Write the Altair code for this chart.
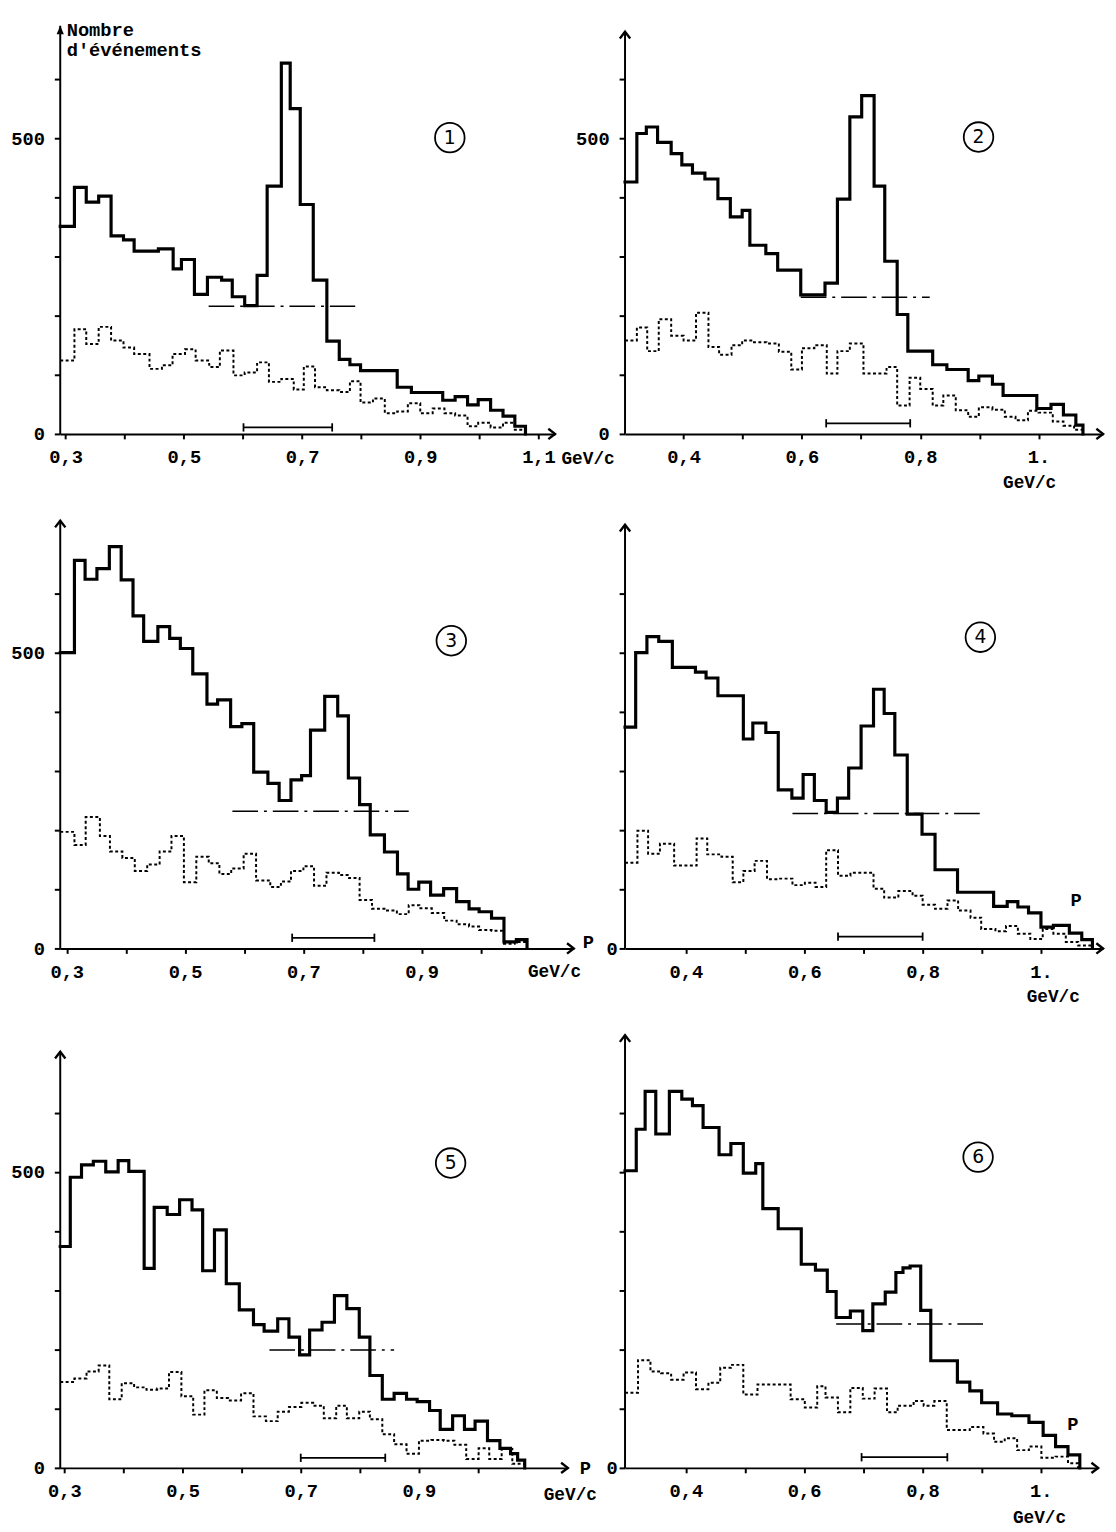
import altair as alt
import pandas as pd

# ---------------- data (p in GeV/c, counts) ----------------
# Panel 1
p1_solid_edges = [0.291, 0.315, 0.335, 0.356, 0.377, 0.398, 0.416, 0.457, 0.482, 0.496, 0.518, 0.540, 0.564, 0.582,
                  0.603, 0.624, 0.641, 0.665, 0.680, 0.697, 0.719, 0.742, 0.763, 0.781, 0.799, 0.861, 0.885, 0.938,
                  0.959, 0.980, 0.998, 1.019, 1.040, 1.060, 1.078]
p1_solid_counts = [351, 417, 392, 402, 335, 328, 309, 313, 279, 295, 236, 265, 260, 232, 217, 268, 419, 627, 550, 388,
                   260, 157, 126, 117, 107, 79, 70, 57, 63, 49, 58, 40, 30, 13]
p1_dot_edges = [0.291, 0.315, 0.335, 0.356, 0.377, 0.398, 0.416, 0.442, 0.463, 0.481, 0.502, 0.520, 0.543, 0.561,
                0.584, 0.603, 0.624, 0.644, 0.665, 0.686, 0.703, 0.722, 0.742, 0.763, 0.781, 0.799, 0.820, 0.840,
                0.861, 0.879, 0.900, 0.921, 0.941, 0.959, 0.980, 0.998, 1.019, 1.040, 1.060, 1.078]
p1_dot_counts = [124, 177, 152, 181, 158, 146, 135, 110, 116, 135, 143, 124, 113, 141, 99, 104, 121, 88, 93, 75,
                 114, 79, 74, 71, 89, 53, 60, 35, 38, 52, 35, 43, 35, 31, 13, 19, 11, 19, 7]

# Panel 2
p2_solid_edges = [0.301, 0.321, 0.337, 0.356, 0.379, 0.397, 0.415, 0.436, 0.458, 0.479, 0.499, 0.512, 0.539, 0.559,
                  0.598, 0.639, 0.660, 0.681, 0.701, 0.722, 0.740, 0.761, 0.779, 0.821, 0.845, 0.881, 0.899, 0.922,
                  0.940, 0.997, 1.021, 1.042, 1.063, 1.075]
p2_solid_counts = [426, 508, 519, 493, 474, 455, 441, 431, 398, 367, 378, 319, 305, 277, 235, 255, 397, 536, 572, 419,
                   292, 202, 140, 117, 109, 90, 98, 84, 65, 43, 50, 32, 15]
p2_dot_edges = [0.301, 0.321, 0.3385, 0.358, 0.379, 0.400, 0.421, 0.442, 0.460, 0.481, 0.499, 0.519, 0.540, 0.561,
                0.582, 0.600, 0.621, 0.642, 0.660, 0.681, 0.704, 0.722, 0.743, 0.761, 0.782, 0.800, 0.821, 0.839,
                0.860, 0.881, 0.899, 0.922, 0.943, 0.961, 0.982, 1.000, 1.024, 1.042, 1.060, 1.075]
p2_dot_counts = [158, 180, 140, 194, 166, 158, 205, 147, 134, 150, 158, 155, 153, 139, 109, 145, 150, 102, 140, 153,
                 102, 102, 113, 48, 95, 76, 48, 65, 40, 29, 45, 41, 29, 23, 39, 36, 21, 14, 7]

# Panel 3
p3_solid_edges = [0.289, 0.313, 0.331, 0.351, 0.372, 0.392, 0.412, 0.430, 0.454, 0.474, 0.492, 0.513, 0.537, 0.555,
                  0.577, 0.596, 0.616, 0.640, 0.659, 0.679, 0.697, 0.712, 0.736, 0.758, 0.776, 0.795, 0.813, 0.837,
                  0.859, 0.877, 0.895, 0.915, 0.937, 0.959, 0.980, 0.997, 1.018, 1.039, 1.060, 1.078]
p3_solid_counts = [500, 656, 624, 642, 679, 623, 562, 519, 544, 524, 507, 464, 413, 420, 375, 380, 298, 279, 250, 285,
                   292, 369, 426, 393, 288, 243, 192, 163, 126, 100, 112, 90, 101, 79, 67, 62, 51, 11, 15]
p3_dot_edges = [0.289, 0.313, 0.332, 0.356, 0.373, 0.394, 0.415, 0.436, 0.457, 0.477, 0.498, 0.519, 0.540, 0.558,
                0.578, 0.599, 0.620, 0.644, 0.662, 0.679, 0.700, 0.718, 0.739, 0.760, 0.777, 0.795, 0.816, 0.837,
                0.858, 0.878, 0.896, 0.917, 0.938, 0.959, 0.980, 0.997, 1.018, 1.039, 1.057, 1.078]
p3_dot_counts = [197, 175, 222, 190, 164, 153, 131, 142, 164, 190, 112, 155, 144, 126, 135, 160, 115, 104, 113, 131,
                 139, 106, 128, 124, 119, 82, 67, 64, 58, 73, 68, 60, 47, 41, 37, 31, 30, 8, 11]

# Panel 4
p4_solid_edges = [0.297, 0.315, 0.334, 0.354, 0.377, 0.416, 0.434, 0.454, 0.497, 0.513, 0.535, 0.556, 0.579, 0.598,
                  0.617, 0.637, 0.656, 0.675, 0.696, 0.717, 0.735, 0.753, 0.774, 0.799, 0.821, 0.859, 0.920, 0.943,
                  0.961, 0.979, 1.000, 1.021, 1.048, 1.069, 1.087]
p4_solid_counts = [374, 500, 527, 519, 475, 467, 457, 427, 354, 381, 365, 268, 254, 294, 250, 230, 254, 305, 376, 438,
                   397, 327, 227, 193, 133, 95, 71, 79, 70, 60, 36, 39, 26, 15]
p4_dot_edges = [0.297, 0.318, 0.336, 0.356, 0.380, 0.418, 0.436, 0.460, 0.479, 0.497, 0.516, 0.537, 0.556, 0.580,
                0.601, 0.619, 0.637, 0.657, 0.678, 0.717, 0.735, 0.759, 0.783, 0.800, 0.821, 0.842, 0.860, 0.881,
                0.899, 0.923, 0.941, 0.961, 0.982, 1.003, 1.021, 1.042, 1.063, 1.087]
p4_dot_counts = [145, 199, 160, 177, 140, 186, 159, 155, 112, 131, 148, 117, 118, 107, 111, 104, 166, 123, 128, 101,
                 86, 97, 89, 74, 67, 81, 64, 52, 33, 29, 38, 25, 16, 33, 25, 11, 5]

# Panel 5
p5_solid_edges = [0.293, 0.310, 0.329, 0.349, 0.370, 0.391, 0.409, 0.435, 0.452, 0.474, 0.495, 0.516, 0.534, 0.554,
                  0.574, 0.596, 0.620, 0.638, 0.661, 0.680, 0.698, 0.715, 0.736, 0.757, 0.778, 0.799, 0.817, 0.838,
                  0.858, 0.879, 0.897, 0.918, 0.936, 0.957, 0.977, 0.995, 1.016, 1.037, 1.055, 1.067, 1.079]
p5_solid_counts = [374, 491, 512, 518, 500, 519, 501, 337, 440, 428, 453, 436, 333, 402, 311, 267, 242, 231, 252, 221,
                   191, 233, 246, 291, 269, 221, 156, 116, 126, 116, 112, 97, 65, 88, 65, 79, 46, 33, 24, 13]
p5_dot_edges = [0.293, 0.317, 0.3375, 0.358, 0.376, 0.397, 0.418, 0.439, 0.457, 0.477, 0.498, 0.518, 0.537, 0.558,
                0.577, 0.599, 0.620, 0.641, 0.661, 0.680, 0.701, 0.721, 0.739, 0.760, 0.778, 0.799, 0.817, 0.838,
                0.858, 0.879, 0.900, 0.921, 0.942, 0.960, 0.980, 1.001, 1.019, 1.040, 1.058, 1.079]
p5_dot_counts = [145, 151, 163, 173, 116, 143, 136, 132, 134, 162, 121, 90, 131, 118, 114, 126, 87, 79, 95, 103,
                 110, 105, 84, 105, 84, 95, 82, 57, 40, 24, 46, 47, 46, 39, 15, 33, 15, 32, 7]

# Panel 6
p6_solid_edges = [0.297, 0.316, 0.331, 0.349, 0.372, 0.393, 0.411, 0.429, 0.456, 0.476, 0.497, 0.518, 0.530, 0.556,
                  0.595, 0.619, 0.639, 0.654, 0.678, 0.699, 0.716, 0.737, 0.755, 0.767, 0.779, 0.797, 0.814, 0.859,
                  0.880, 0.900, 0.927, 0.951, 0.980, 1.004, 1.025, 1.046, 1.066]
p6_solid_counts = [502, 572, 636, 564, 636, 623, 612, 575, 529, 548, 498, 514, 438, 404, 344, 334, 298, 254, 265, 232,
                   277, 297, 330, 338, 341, 266, 181, 145, 130, 110, 91, 88, 77, 55, 36, 22]
p6_dot_edges = [0.297, 0.319, 0.340, 0.358, 0.375, 0.396, 0.417, 0.438, 0.458, 0.476, 0.497, 0.521, 0.577, 0.601,
                0.622, 0.636, 0.657, 0.678, 0.699, 0.719, 0.740, 0.758, 0.785, 0.802, 0.820, 0.841, 0.880, 0.903,
                0.921, 0.939, 0.960, 0.980, 1.001, 1.025, 1.046, 1.063]
p6_dot_counts = [127, 182, 163, 160, 149, 161, 133, 144, 169, 174, 124, 141, 116, 102, 138, 119, 94, 135, 117, 134,
                 94, 105, 113, 105, 113, 64, 69, 58, 44, 50, 30, 36, 17, 19, 8]

# background level (dash-dot) : start, end, level
bg_lines = [(0.542, 0.790, 216), (0.598, 0.816, 231), (0.580, 0.878, 232),
            (0.580, 0.905, 228), (0.647, 0.858, 199), (0.654, 0.911, 243)]
# mass-window bracket near the axis : start, end, level
brackets = [(0.601, 0.751, 11), (0.641, 0.783, 18), (0.681, 0.820, 18),
            (0.657, 0.800, 20), (0.700, 0.843, 17), (0.697, 0.842, 18)]
# circled panel numbers : p, count, label
circles = [(0.950, 501, "1"), (0.8985, 502, "2"), (0.950, 520, "3"),
           (0.8976, 526, "4"), (0.9536, 515, "5"), (0.894, 525, "6")]
# axis extents (x start, x arrow tip) and y arrow level
x_ranges = [(0.291, 1.128), (0.301, 1.109), (0.289, 1.157), (0.297, 1.105), (0.293, 1.152), (0.297, 1.097)]
y_tops = [690, 680, 723, 716, 703, 731]
row_ymax = [690, 723, 731]

odd_ticks = [0.3, 0.4, 0.5, 0.6, 0.7, 0.8, 0.9, 1.0, 1.1]
odd_ticks_short = [0.3, 0.4, 0.5, 0.6, 0.7, 0.8, 0.9, 1.0]
even_ticks = [0.4, 0.5, 0.6, 0.7, 0.8, 0.9, 1.0]
y_ticks = [0, 100, 200, 300, 400, 500, 600]

FONT = "Liberation Mono"
PX_GEV = 600.0
PX_CNT = 0.6

ODD_EXPR = ("indexof(['0.3','0.5','0.7','0.9','1.1'], format(datum.value, '.1f')) >= 0 ? "
            "replace(format(datum.value, '.1f'), '.', ',') : ''")
EVEN_EXPR = ("format(datum.value, '.1f') == '1.0' ? '1.' : "
             "(indexof(['0.4','0.6','0.8'], format(datum.value, '.1f')) >= 0 ? "
             "replace(format(datum.value, '.1f'), '.', ',') : '')")
Y_FULL = "datum.value == 500 ? '500' : (datum.value == 0 ? '0' : '')"
Y_ZERO = "datum.value == 0 ? '0' : ''"

CHEV_UP = "M -1 1.3 L 0 0 L 1 1.3"
TRI_UP = "M -0.7 1.6 L 0 0 L 0.7 1.6 Z"
CHEV_RIGHT = "M -1.3 -1 L 0 0 L -1.3 1"


def hist_df(edges, counts):
    rows = [{"x": edges[i], "y": c, "o": i} for i, c in enumerate(counts)]
    n = len(counts)
    rows.append({"x": edges[-1], "y": counts[-1], "o": n})
    rows.append({"x": edges[-1], "y": 0, "o": n + 1})
    return pd.DataFrame(rows)


def panel(k, solid, dot, xticks, xexpr, yexpr, ymax, xtitle_pos, ytitle=False, p_label=None, ylabpad=10):
    x0, x1 = x_ranges[k]
    width = round((x1 - x0) * PX_GEV)
    height = round(ymax * PX_CNT)
    xscale = alt.Scale(domain=[x0, x1], nice=False, zero=False)
    yscale = alt.Scale(domain=[0, ymax], nice=False, zero=True)
    xaxis = alt.Axis(values=xticks, labelExpr=xexpr, grid=False, domainColor="black", domainWidth=2,
                     tickColor="black", tickSize=5, tickWidth=2, labelFont=FONT, labelFontSize=19,
                     labelFontWeight="bold", labelColor="black", labelPadding=9, labelOverlap=False,
                     labelFlush=False, labelBound=False,
                     title="GeV/c", titleFont=FONT, titleFontSize=18, titleFontWeight="bold", titleColor="black",
                     titleAlign="left", titleBaseline="alphabetic", titleX=xtitle_pos[0], titleY=xtitle_pos[1])
    common_y = dict(values=y_ticks, labelExpr=yexpr, grid=False, domain=False, tickColor="black",
                    tickSize=6, tickWidth=2, labelFont=FONT, labelFontSize=19, labelFontWeight="bold",
                    labelColor="black", labelPadding=ylabpad, labelOverlap=False)
    if ytitle:
        yaxis = alt.Axis(title=["Nombre", "d'événements"], titleAngle=0, titleAlign="left", titleBaseline="top",
                         titleX=6, titleY=-5, titleFont=FONT, titleFontSize=19, titleFontWeight="bold",
                         titleColor="black", titleLineHeight=20, **common_y)
    else:
        yaxis = alt.Axis(title="", **common_y)

    def X(field="x"):
        return alt.X(f"{field}:Q", scale=xscale, axis=xaxis)

    def Y(field="y"):
        return alt.Y(f"{field}:Q", scale=yscale, axis=yaxis)

    solid_line = alt.Chart(hist_df(*solid)).mark_line(
        interpolate="step-after", color="black", strokeWidth=3.2, strokeJoin="miter", strokeCap="square"
    ).encode(x=X(), y=Y(), order="o:Q")
    dot_line = alt.Chart(hist_df(*dot)).mark_line(
        interpolate="step-after", color="black", strokeWidth=2.0, strokeDash=[3, 2.5]
    ).encode(x=X(), y=Y(), order="o:Q")

    ytop = y_tops[k]
    y_axis_line = alt.Chart(pd.DataFrame({"x": [x0], "y": [0], "y2": [ytop]})).mark_rule(
        color="black", strokeWidth=2).encode(x=X(), y=Y(), y2="y2:Q")
    up_arrow = alt.Chart(pd.DataFrame({"x": [x0], "y": [ytop]})).mark_point(
        shape=TRI_UP if k == 0 else CHEV_UP, size=110, filled=(k == 0), color="black",
        strokeWidth=2.4, opacity=1).encode(x=X(), y=Y())
    right_arrow = alt.Chart(pd.DataFrame({"x": [x1], "y": [0]})).mark_point(
        shape=CHEV_RIGHT, size=110, filled=False, color="black", strokeWidth=2.4, opacity=1
    ).encode(x=X(), y=Y())

    b0, b1, bl = bg_lines[k]
    bg = alt.Chart(pd.DataFrame({"x": [b0], "x2": [b1], "y": [bl]})).mark_rule(
        color="black", strokeWidth=1.5, strokeDash=[26, 6, 3, 6]).encode(x=X(), x2="x2:Q", y=Y())

    r0, r1, rl = brackets[k]
    br = alt.Chart(pd.DataFrame({"x": [r0], "x2": [r1], "y": [rl]})).mark_rule(
        color="black", strokeWidth=1.8).encode(x=X(), x2="x2:Q", y=Y())
    caps = alt.Chart(pd.DataFrame({"x": [r0, r1], "y": [rl - 7, rl - 7], "y2": [rl + 7, rl + 7]})).mark_rule(
        color="black", strokeWidth=1.8).encode(x=X(), y=Y(), y2="y2:Q")

    cx, cy, ct = circles[k]
    cdf = pd.DataFrame({"x": [cx], "y": [cy], "t": [ct]})
    circ = alt.Chart(cdf).mark_point(shape="circle", size=900, filled=False, color="black",
                                     strokeWidth=1.8, opacity=1).encode(x=X(), y=Y())
    ctext = alt.Chart(cdf).mark_text(font="DejaVu Sans", fontSize=19, color="black", align="center",
                                     baseline="middle").encode(x=X(), y=Y(), text="t:N")

    layers = [dot_line, solid_line, y_axis_line, up_arrow, right_arrow, bg, br, caps, circ, ctext]

    if p_label is not None:
        px, py, dx, dy = p_label
        pdf = pd.DataFrame({"x": [px], "y": [py], "t": ["P"]})
        layers.append(alt.Chart(pdf).mark_text(font=FONT, fontSize=19, fontWeight="bold", color="black",
                                               align="left", baseline="alphabetic", dx=dx, dy=dy
                                               ).encode(x=X(), y=Y(), text="t:N"))

    return alt.layer(*layers).properties(width=width, height=height)


c1 = panel(0, (p1_solid_edges, p1_solid_counts), (p1_dot_edges, p1_dot_counts), odd_ticks, ODD_EXPR, Y_FULL,
           row_ymax[0], (508, 30), ytitle=True)
c2 = panel(1, (p2_solid_edges, p2_solid_counts), (p2_dot_edges, p2_dot_counts), even_ticks, EVEN_EXPR, Y_FULL,
           row_ymax[0], (383, 54))
c3 = panel(2, (p3_solid_edges, p3_solid_counts), (p3_dot_edges, p3_dot_counts), odd_ticks_short, ODD_EXPR, Y_FULL,
           row_ymax[1], (474, 28), p_label=(x_ranges[2][1], 0, 9, 0))
c4 = panel(3, (p4_solid_edges, p4_solid_counts), (p4_dot_edges, p4_dot_counts), even_ticks, EVEN_EXPR, Y_ZERO,
           row_ymax[1], (407, 54), p_label=(1.06, 71, -6, 0), ylabpad=2)
c5 = panel(4, (p5_solid_edges, p5_solid_counts), (p5_dot_edges, p5_dot_counts), odd_ticks_short, ODD_EXPR, Y_FULL,
           row_ymax[2], (490, 32), p_label=(x_ranges[4][1], 0, 12, 6))
c6 = panel(5, (p6_solid_edges, p6_solid_counts), (p6_dot_edges, p6_dot_counts), even_ticks, EVEN_EXPR, Y_ZERO,
           row_ymax[2], (393, 55), p_label=(1.0546, 64, -6, 0), ylabpad=2)

chart = alt.concat(
    c1, c2, c3, c4, c5, c6, columns=2, spacing={"row": 88, "column": 52}, bounds="flush"
).resolve_scale(
    x="independent", y="independent"
).properties(
    padding={"left": 2, "top": 2, "right": 0, "bottom": 0},
    background="white",
).configure_view(strokeWidth=0)

chart.save("out.html", embed_options={"renderer": "svg", "actions": False})
